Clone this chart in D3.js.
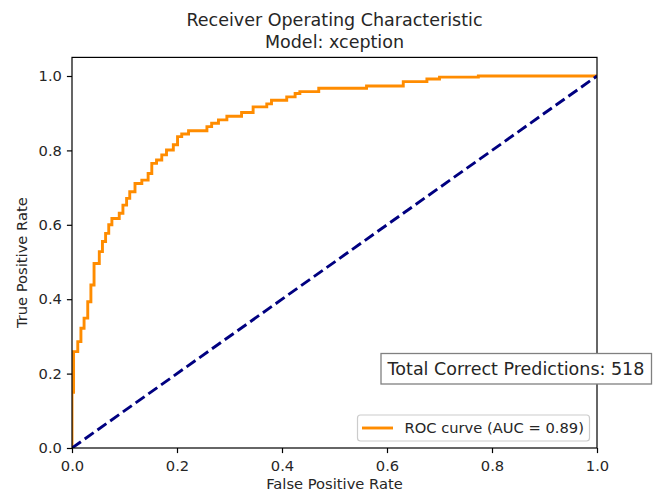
<!DOCTYPE html>
<html><head><meta charset="utf-8">
<script src="https://cdn.jsdelivr.net/npm/d3@7"></script>
<style>
html,body{margin:0;padding:0;background:#fff;}
svg text{font-family:"DejaVu Sans",sans-serif;fill:#262626;}
</style></head>
<body>
<script>
const titleLines = ["Receiver Operating Characteristic", "Model: xception"];
const xLabel = "False Positive Rate";
const yLabel = "True Positive Rate";
const legendLabel = "ROC curve (AUC = 0.89)";
const boxText = "Total Correct Predictions: 518";
const tickValues = [0, 0.2, 0.4, 0.6, 0.8, 1.0];
const chanceLine = [[0, 0], [1, 1]];
const fpr = [0,0,0.003,0.003,0.011,0.011,0.017,0.017,0.023,0.023,0.030,0.030,0.036,0.036,0.042,0.042,0.052,0.052,0.058,0.058,0.064,0.064,0.070,0.070,0.076,0.076,0.090,0.090,0.097,0.097,0.104,0.104,0.110,0.110,0.120,0.120,0.133,0.133,0.145,0.145,0.152,0.152,0.161,0.161,0.171,0.171,0.180,0.180,0.193,0.193,0.201,0.201,0.209,0.209,0.222,0.222,0.257,0.257,0.266,0.266,0.279,0.279,0.295,0.295,0.323,0.323,0.345,0.345,0.371,0.371,0.380,0.380,0.409,0.409,0.425,0.425,0.434,0.434,0.470,0.470,0.561,0.561,0.631,0.631,0.676,0.676,0.700,0.700,0.774,0.774,1.0];
const tpr = [0,0.15,0.15,0.259,0.259,0.286,0.286,0.322,0.322,0.349,0.349,0.393,0.393,0.438,0.438,0.496,0.496,0.528,0.528,0.555,0.555,0.577,0.577,0.600,0.600,0.617,0.617,0.631,0.631,0.653,0.653,0.671,0.671,0.689,0.689,0.711,0.711,0.720,0.720,0.738,0.738,0.765,0.765,0.774,0.774,0.788,0.788,0.801,0.801,0.815,0.815,0.837,0.837,0.844,0.844,0.853,0.853,0.864,0.864,0.873,0.873,0.882,0.882,0.892,0.892,0.902,0.902,0.917,0.917,0.925,0.925,0.935,0.935,0.944,0.944,0.953,0.953,0.958,0.958,0.967,0.967,0.973,0.973,0.985,0.985,0.992,0.992,0.997,0.997,1.0,1.0];

const W = 659, H = 494;
const L = 72, R = 597, T = 57.4, B = 448;
const svg = d3.select("body").append("svg").attr("width", W).attr("height", H);
const x = d3.scaleLinear().domain([0, 1]).range([L, R]);
const y = d3.scaleLinear().domain([0, 1.05]).range([B, T]);

// plot lines (clipped)
svg.append("clipPath").attr("id", "clip").append("rect")
  .attr("x", L).attr("y", T).attr("width", R - L).attr("height", B - T);
const g = svg.append("g").attr("clip-path", "url(#clip)");
const line = d3.line().x(d => x(d[0])).y(d => y(d[1]));
const roc = fpr.map((f, i) => [f, tpr[i]]);
g.append("path").datum(roc).attr("d", line)
  .attr("fill", "none").attr("stroke", "#ff8c00").attr("stroke-width", 2.9)
  .attr("stroke-linejoin", "miter").attr("stroke-linecap", "butt");
g.append("path").datum(chanceLine).attr("d", line)
  .attr("fill", "none").attr("stroke", "#000080").attr("stroke-width", 2.9)
  .attr("stroke-dasharray", "10.9,4.7");

// axes
const xAxis = svg.append("g").attr("transform", `translate(0,${B})`)
  .call(d3.axisBottom(x).tickValues(tickValues).tickFormat(d3.format(".1f")).tickSize(5.1).tickPadding(5));
const yAxis = svg.append("g").attr("transform", `translate(${L},0)`)
  .call(d3.axisLeft(y).tickValues(tickValues).tickFormat(d3.format(".1f")).tickSize(5.1).tickPadding(5));
[xAxis, yAxis].forEach(a => {
  a.select(".domain").remove();
  a.selectAll(".tick line").attr("stroke", "#000").attr("stroke-width", 1.2);
  a.selectAll(".tick text").attr("font-size", "14.7px").attr("fill", "#262626")
   .attr("font-family", "DejaVu Sans, sans-serif");
});
xAxis.selectAll(".tick text").attr("dy", "0.85em");

// spines
svg.append("rect").attr("x", L).attr("y", T).attr("width", R - L).attr("height", B - T)
  .attr("fill", "none").attr("stroke", "#000").attr("stroke-width", 1.2);

// title
svg.append("text").attr("x", (L + R) / 2).attr("y", 26).attr("text-anchor", "middle")
  .attr("font-size", "17.5px").text(titleLines[0]);
svg.append("text").attr("x", (L + R) / 2).attr("y", 48).attr("text-anchor", "middle")
  .attr("font-size", "17.5px").text(titleLines[1]);

// axis labels
svg.append("text").attr("x", (L + R) / 2).attr("y", 489).attr("text-anchor", "middle")
  .attr("font-size", "14.7px").text(xLabel);
svg.append("text").attr("transform", `translate(27,${(T + B) / 2 + 10}) rotate(-90)`)
  .attr("text-anchor", "middle").attr("font-size", "14.7px").text(yLabel);

// text box
const bx = svg.append("g");
bx.append("rect").attr("x", 381).attr("y", 353.5).attr("width", 270.5).attr("height", 30.5)
  .attr("fill", "#fff").attr("stroke", "#808080").attr("stroke-width", 1.3);
bx.append("text").attr("x", 516).attr("y", 375).attr("text-anchor", "middle")
  .attr("font-size", "17.5px").text(boxText);

// legend
const lg = svg.append("g");
lg.append("rect").attr("x", 357.5).attr("y", 415).attr("width", 232).attr("height", 26)
  .attr("rx", 3).attr("fill", "#fff").attr("fill-opacity", 0.8)
  .attr("stroke", "#cccccc").attr("stroke-width", 1.2);
lg.append("line").attr("x1", 362).attr("x2", 393).attr("y1", 428).attr("y2", 428)
  .attr("stroke", "#ff8c00").attr("stroke-width", 2.9);
lg.append("text").attr("x", 404.5).attr("y", 433).attr("font-size", "14.7px").text(legendLabel);
</script>
</body></html>
